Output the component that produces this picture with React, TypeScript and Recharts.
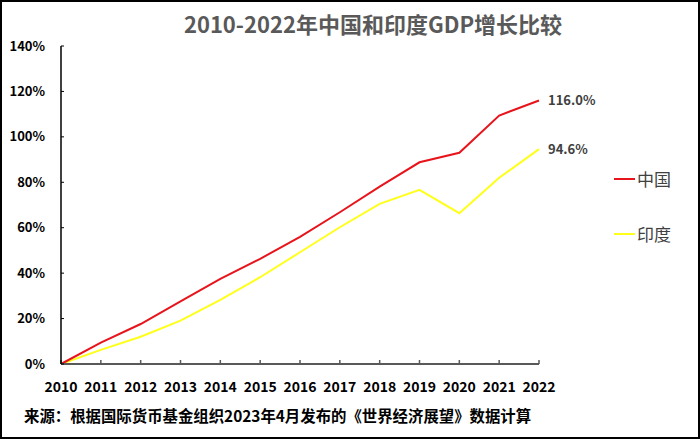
import React from "react";
import { LineChart, Line, XAxis, YAxis, LabelList } from "recharts";

const years = ["2010","2011","2012","2013","2014","2015","2016","2017","2018","2019","2020","2021","2022"];
const chinaValues = [0, 9.4, 17.6, 27.6, 37.5, 46.3, 56.0, 66.8, 78.1, 88.8, 93.0, 109.4, 116.0];
const indiaValues = [0, 6.2, 12.0, 19.1, 28.2, 38.2, 49.2, 60.2, 70.5, 76.7, 66.4, 82.0, 94.6];
const yTicks = [0, 20, 40, 60, 80, 100, 120, 140];
const seriesNames = ["中国", "印度"];
const seriesColors = ["#E8141C", "#FFFF1A"];
const titleText = "2010-2022年中国和印度GDP增长比较";
const sourceText = "来源：根据国际货币基金组织2023年4月发布的《世界经济展望》数据计算";

const data = years.map((y, i) => ({ year: y, china: chinaValues[i], india: indiaValues[i] }));

const FONT = "'Noto Sans CJK SC', 'Noto Sans', sans-serif";

const EndLabel = (props: any) => {
  const { x, y, value, index } = props;
  if (index !== years.length - 1) return null;
  return (
    <text x={x + 9} y={y} dy={4.5} fill="#404040" fontSize={13} fontWeight="bold" fontFamily={FONT}>
      {Number(value).toFixed(1)}%
    </text>
  );
};

export default function App() {
  const legendTops = [168, 223];
  return (
    <div style={{ position: "absolute", left: 0, top: 0, width: 700, height: 439, background: "#fff", fontFamily: FONT }}>
      <div style={{ position: "absolute", left: 0, top: 8, width: 746, textAlign: "center", fontSize: 22, fontWeight: "bold", color: "#595959", lineHeight: "30px" }}>
        {titleText}
      </div>
      <LineChart width={700} height={439} data={data} margin={{ top: 46, right: 161, bottom: 55, left: 11 }}>
        <XAxis
          dataKey="year"
          height={20}
          axisLine={{ stroke: "#595959", strokeWidth: 2 }}
          tickLine={{ stroke: "#595959", strokeWidth: 1.5 }}
          tickSize={-4}
          tickMargin={22}
          interval={0}
          tick={{ fill: "#000", fontSize: 14, fontWeight: "bold", fontFamily: FONT }}
        />
        <YAxis
          width={50}
          domain={[0, 140]}
          ticks={yTicks}
          interval={0}
          tickFormatter={(v: number) => `${v}%`}
          axisLine={{ stroke: "#000", strokeWidth: 1.5 }}
          tickLine={{ stroke: "#000", strokeWidth: 1 }}
          tickSize={-3}
          tickMargin={19}
          tick={{ fill: "#000", fontSize: 13, fontWeight: "bold", fontFamily: FONT }}
        />
        <Line type="linear" dataKey="india" stroke={seriesColors[1]} strokeWidth={2} dot={false} isAnimationActive={false}>
          <LabelList dataKey="india" content={EndLabel} />
        </Line>
        <Line type="linear" dataKey="china" stroke={seriesColors[0]} strokeWidth={2} dot={false} isAnimationActive={false}>
          <LabelList dataKey="china" content={EndLabel} />
        </Line>
      </LineChart>
      {seriesNames.map((name, i) => (
        <div key={name} style={{ position: "absolute", left: 614, top: legendTops[i], display: "flex", alignItems: "center", height: 22 }}>
          <div style={{ width: 21, height: 2, background: seriesColors[i], marginRight: 2 }} />
          <span style={{ fontSize: 17, color: "#404040", lineHeight: "22px" }}>{name}</span>
        </div>
      ))}
      <div style={{ position: "absolute", left: 24, top: 404, fontSize: 15.4, fontWeight: "bold", color: "#000", lineHeight: "22px", whiteSpace: "nowrap" }}>
        {sourceText}
      </div>
      <div style={{ position: "absolute", left: 0, top: 0, width: 700, height: 439, boxSizing: "border-box", border: "2px solid #000", pointerEvents: "none" }} />
    </div>
  );
}
